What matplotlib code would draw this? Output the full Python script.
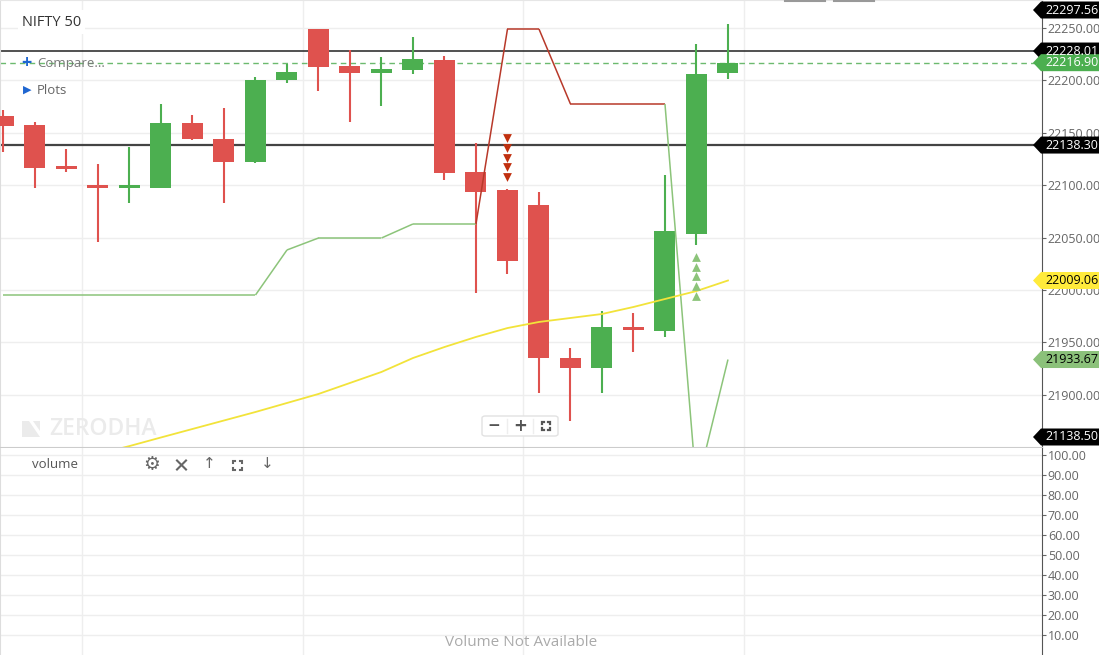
import numpy as np
import matplotlib.pyplot as plt
from matplotlib.patches import Polygon, FancyBboxPatch
from matplotlib.collections import LineCollection
from matplotlib.lines import Line2D
from matplotlib.ticker import FormatStrFormatter

plt.rcParams['font.family'] = ['Open Sans', 'DejaVu Sans']

# NIFTY 50 candles
opens = [22166.0, 22157.4, 22118.3, 22099.2, 22097.6, 22097.6, 22159.4, 22144.1,
         22122.4, 22200.4, 22249.0, 22213.7, 22207.3, 22209.9, 22219.5, 22112.6,
         22095.4, 22081.1, 21935.1, 21925.6, 21964.7, 21961.2, 22053.7, 22207.1]
highs = [22171.8, 22160.3, 22134.5, 22120.2, 22136.7, 22177.5, 22167.0, 22174.0,
         22203.0, 22215.6, 22249.5, 22229.0, 22222.3, 22241.4, 22223.3, 22140.0,
         22096.4, 22093.5, 21944.7, 21979.9, 21978.0, 22109.7, 22234.7, 22253.8]
lows = [22132.0, 22097.6, 22112.9, 22046.1, 22083.3, 22097.0, 22142.8, 22083.3,
        22121.5, 22197.8, 22190.2, 22160.6, 22175.9, 22206.1, 22105.3, 21997.4,
        22015.6, 21901.7, 21875.0, 21901.7, 21941.0, 21955.4, 22042.9, 22201.3]
closes = [22156.8, 22116.7, 22115.5, 22097.6, 22099.2, 22159.4, 22144.4, 22122.4,
          22200.4, 22208.0, 22213.1, 22207.3, 22210.9, 22220.4, 22111.9, 22093.8,
          22027.9, 21935.1, 21925.6, 21964.7, 21962.0, 22056.6, 22206.1, 22216.9]

# trailing stop line and trend direction (1 = up, -1 = down)
trend_line = [21995.2] * 9 + [22038.2, 22049.6, 22049.6, 22049.6, 22063.0, 22063.0,
                              22063.0, 22249.0, 22249.0, 22177.5, 22177.5, 22177.5,
                              22177.5, 21811.0, 21933.67]
trend_dir = [1] * 16 + [-1] * 6 + [1] * 2

# moving average (starts at candle 3)
ma_start = 3
ma_values = [21843.5, 21851.1, 21859.3, 21867.4, 21875.5, 21883.6, 21892.2, 21900.8,
             21911.3, 21921.8, 21935.1, 21945.6, 21955.2, 21963.7, 21969.5, 21973.3,
             21977.1, 21983.8, 21991.4, 21999.0, 22009.06]

sell_signals = [16]
buy_signals = [22]

level_lines = [22228.01, 22138.30]
last_close = 22216.90

# price tags on the right axis: value, background, text colour
price_tags = [
    (22297.56, '#000000', 'white'),
    (22228.01, '#000000', 'white'),
    (22216.90, '#4caf50', 'white'),
    (22138.30, '#000000', 'white'),
    (22009.06, '#ffeb3b', 'black'),
    (21933.67, '#8bc17a', 'black'),
    (21138.50, '#000000', 'white'),
]

price_ticks = np.arange(21900, 22251, 50)
volume_ticks = np.arange(10, 101, 10)
vgrid = [2.5, 9.5, 16.5, 23.5]

GREEN = '#4caf50'
RED = '#df524e'
GRID = '#eeeeee'

W, H = 1099, 655


def fx(x):
    return x / W


def fy(y):
    return 1 - y / H


fig = plt.figure(figsize=(W / 100, H / 100), dpi=100)
ax = fig.add_axes([0, fy(447), fx(1042), 447 / H])
axv = fig.add_axes([0, 0, fx(1042), 207 / H])

xlim = (-0.111, 32.97)

# ---- price panel
x = np.arange(len(opens))
o, h, l, c = map(np.array, (opens, highs, lows, closes))
up = c >= o
cols = np.where(up, GREEN, RED)
ax.vlines(x, l, h, colors=cols, lw=1.5, zorder=3)
diff = np.abs(c - o)
body_h = np.maximum(diff, 2.7)
body_b = np.minimum(o, c) - (body_h - diff) / 2
ax.bar(x, body_h, bottom=body_b, width=0.667, color=cols, linewidth=0, zorder=4)

segs = [[(x[i], trend_line[i]), (x[i + 1], trend_line[i + 1])] for i in range(len(x) - 1)]
seg_cols = ['#8cc47a' if d > 0 else '#b8392a' for d in trend_dir[1:]]
ax.add_collection(LineCollection(segs, colors=seg_cols, linewidths=1.1, zorder=5))

ax.plot(x[ma_start:], ma_values, color='#f2e33a', lw=1.3, zorder=5)

steps = 11 + 9.5 * np.arange(5)
for i in sell_signals:
    ax.scatter([i] * 5, h[i] + steps, marker='v', s=40, color='#c0300f', linewidths=0, zorder=6)
for i in buy_signals:
    ax.scatter([i] * 5, l[i] - steps, marker='^', s=40, color='#8cc47a', linewidths=0, zorder=6)

ax.axhline(level_lines[0], color='#222222', lw=1.1, zorder=2)
ax.axhline(level_lines[1], color='#444444', lw=1.6, zorder=2)
ax.axhline(last_close, color='#6cba6f', lw=1, ls=(0, (4, 3)), zorder=2)

for gx in vgrid:
    ax.axvline(gx, color=GRID, lw=1, zorder=0)
    axv.axvline(gx, color=GRID, lw=1, zorder=0)

ax.set_xlim(*xlim)
ax.set_ylim(21850.2, 22276.7)
ax.set_xticks([])
ax.yaxis.tick_right()
ax.set_yticks(price_ticks)
ax.yaxis.set_major_formatter(FormatStrFormatter('%.2f'))
ax.grid(axis='y', color=GRID, lw=1)
ax.set_axisbelow(True)

# ---- volume panel
axv.set_xlim(*xlim)
axv.set_ylim(-0.25, 103.5)
axv.set_xticks([])
axv.yaxis.tick_right()
axv.set_yticks(volume_ticks)
axv.yaxis.set_major_formatter(FormatStrFormatter('%.2f'))
axv.grid(axis='y', color=GRID, lw=1)
axv.set_axisbelow(True)
axv.text(0.5, fy(642) * H / 207, 'Volume Not Available', transform=axv.transAxes,
         ha='center', va='center', fontsize=11, color='#aaaaaa')

for a in (ax, axv):
    a.tick_params(axis='y', direction='out', length=3, pad=1.2, color='#666666',
                  labelsize=9, labelcolor='#666666')
    a.spines['right'].set_color('#555555')
    a.spines['left'].set_color('#dddddd')
    a.spines['top'].set_visible(False)
    a.spines['bottom'].set_visible(False)
ax.spines['bottom'].set_visible(True)
ax.spines['bottom'].set_color('#cccccc')
ax.spines['top'].set_visible(True)
ax.spines['top'].set_color('#e6e6e6')

# ---- price tags
for val, bg, tc in price_tags:
    y = H - ax.transData.transform((0, val))[1]
    y = min(max(y, 10), 437)
    pts = [(1033, y), (1041, y - 8.5), (1099, y - 8.5), (1099, y + 8.5), (1041, y + 8.5)]
    fig.add_artist(Polygon([(fx(px), fy(py)) for px, py in pts], closed=True,
                           transform=fig.transFigure, facecolor=bg, edgecolor='none'))
    fig.text(fx(1045), fy(y), f'{val:.2f}', color=tc, fontsize=9, va='center', ha='left')

# ---- chart chrome
fig.text(fx(22), fy(22), 'NIFTY 50', fontsize=10.5, color='#333333', va='center',
         bbox=dict(facecolor='white', edgecolor='none', pad=3))
fig.text(fx(26), fy(63), '+', fontsize=13, color='#1f66d1', va='center', ha='center',
         fontweight='bold')
fig.text(fx(37), fy(63), 'Compare...', fontsize=9.5, color='#777777', va='center')
fig.text(fx(27), fy(90), '\u25b6', fontsize=8, color='#1f66d1', va='center', ha='center',
         family='DejaVu Sans')
fig.text(fx(37), fy(90), 'Plots', fontsize=9.5, color='#666666', va='center')

# watermark
fig.add_artist(Polygon([(fx(22), fy(421)), (fx(29), fy(421)), (fx(40), fy(437)), (fx(22), fy(437))],
                       transform=fig.transFigure, facecolor='#ebebeb', edgecolor='none'))
fig.add_artist(Polygon([(fx(33), fy(421)), (fx(40), fy(421)), (fx(40), fy(431))],
                       transform=fig.transFigure, facecolor='#ebebeb', edgecolor='none'))
fig.text(fx(49), fy(429), 'ZERODHA', fontsize=16.5, color='#ebebeb', va='center',
         fontweight='semibold')

# zoom buttons
fig.add_artist(FancyBboxPatch((fx(482), fy(436)), fx(76), 20 / H,
                              boxstyle='round,pad=0,rounding_size=0.003',
                              transform=fig.transFigure, facecolor='white',
                              edgecolor='#e2e2e2', lw=1))
for sx in (507, 533):
    fig.add_artist(Line2D([fx(sx), fx(sx)], [fy(419), fy(433)], color='#eeeeee', lw=1))
fig.text(fx(494), fy(426), '\u2212', fontsize=11, color='#555555', ha='center', va='center',
         fontweight='bold', family='DejaVu Sans')
fig.text(fx(520), fy(426), '+', fontsize=12, color='#555555', ha='center', va='center',
         fontweight='bold', family='DejaVu Sans')


def corners(cx, cy, r=4, a=2, col='#555555', lw=1.6):
    for sx in (-1, 1):
        for sy in (-1, 1):
            px, py = cx + sx * r, cy + sy * r
            fig.add_artist(Line2D([fx(px - sx * a), fx(px), fx(px)],
                                  [fy(py), fy(py), fy(py - sy * a)],
                                  color=col, lw=lw, solid_joinstyle='miter'))


corners(546, 426)

# volume panel toolbar
fig.text(fx(55), fy(465), 'volume', fontsize=9.5, color='#555555', ha='center', va='center')
fig.text(fx(152), fy(465), '\u2699', fontsize=13.5, color='#666666', ha='center', va='center',
         family='DejaVu Sans')
fig.add_artist(Line2D([fx(177), fx(186)], [fy(460.5), fy(469.5)], color='#666666', lw=1.5))
fig.add_artist(Line2D([fx(177), fx(186)], [fy(469.5), fy(460.5)], color='#666666', lw=1.5))
fig.text(fx(209), fy(464), '\u2191', fontsize=11, color='#666666', ha='center', va='center',
         family='DejaVu Sans')
corners(237, 465, r=4.5, a=2, col='#666666', lw=1.5)
fig.text(fx(267), fy(464), '\u2193', fontsize=11, color='#666666', ha='center', va='center',
         family='DejaVu Sans')

# top strip marks
fig.add_artist(Line2D([fx(785), fx(825)], [fy(0.5), fy(0.5)], color='#999999', lw=1.5))
fig.add_artist(Line2D([fx(834), fx(874)], [fy(0.5), fy(0.5)], color='#999999', lw=1.5))

fig.savefig('out.png', dpi=100, facecolor='white')
